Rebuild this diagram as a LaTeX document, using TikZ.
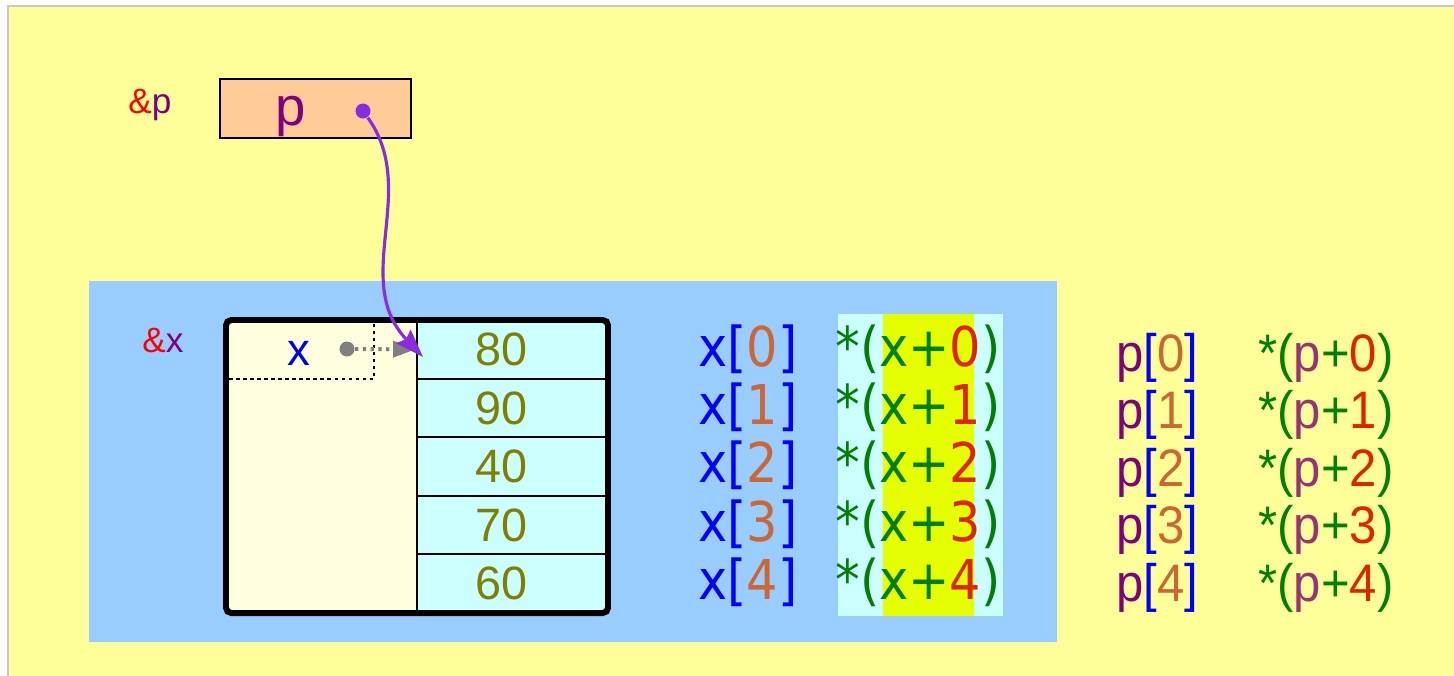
\documentclass[tikz,border=0pt]{standalone}
\usepackage{fontspec}
\setmainfont{Liberation Sans}
\newfontfamily\rightfont{Liberation Sans}[FakeStretch=0.93]
\newfontfamily\midfont{DejaVu Sans}[FakeStretch=0.9]
\usetikzlibrary{arrows.meta}
\definecolor{bgyellow}{HTML}{FFFF99}
\definecolor{bgborder}{HTML}{C8C8C8}
\definecolor{panelblue}{HTML}{99CCFF}
\definecolor{peach}{HTML}{FFCC99}
\definecolor{cellyellow}{HTML}{FFFFDD}
\definecolor{cellcyan}{HTML}{CCFFFF}
\definecolor{hilite}{HTML}{E6FF00}
\definecolor{pointer}{HTML}{8A2BE2}
\definecolor{valolive}{HTML}{808000}
\definecolor{varblue}{HTML}{0000FF}
\definecolor{varpurple}{HTML}{800080}
\definecolor{idxorange}{HTML}{CC6633}
\definecolor{offred}{HTML}{E02400}
\definecolor{ptrgreen}{HTML}{008000}
\definecolor{pmauve}{HTML}{993377}
\tikzset{
  cell/.style={draw, line width=0.6pt, fill=cellcyan, minimum width=1.91cm,
    minimum height=0.586cm, inner sep=0pt, text=valolive,
    font=\fontsize{13.3}{14}\selectfont},
  addr/.style={anchor=base, font=\fontsize{10}{12}\selectfont},
  midcol/.style={anchor=base, font=\fontsize{15.6}{18}\midfont},
  rightcol/.style={anchor=base, font=\fontsize{15}{18}\rightfont},
  dot/.style={circle, inner sep=0pt, minimum size=0.15cm}
}

\begin{document}
\begin{tikzpicture}[x=0.01cm,y=-0.01cm]
\useasboundingbox (0,0) rectangle (1454,675);
\fill[white] (0,0) rectangle (1454,675);
\draw[bgborder, line width=0.6pt, fill=bgyellow] (8,6) rectangle (1470,690);
\fill[panelblue] (89,281) rectangle (1057,642);
% highlight behind the pointer column
\fill[cellcyan] (838,314) rectangle (1003,616);
\fill[hilite] (883,314) rectangle (974,616);

% pointer variable p
\node[addr] (paddr) at (150,113) {\textcolor{red}{\&}\textcolor{varpurple}{p}};
\node[draw, line width=0.6pt, fill=peach, minimum width=1.91cm, minimum height=0.59cm] (pbox) at (315.5,108.5) {};
\node[anchor=base, text=varpurple, font=\fontsize{15.5}{18}\selectfont] (pname) at (291,125) {p};
\node[dot, fill=pointer] (pdot) at (363,111) {};

% array x
\node[addr] (xaddr) at (163,352) {\textcolor{red}{\&}\textcolor{varpurple}{x}};
\fill[cellyellow] (226,320) rectangle (417,613);
\draw[line width=0.6pt, dash pattern=on 1pt off 1pt] (229,379) -| (374,323);
\node[anchor=base, text=varblue, font=\fontsize{13}{15}\selectfont] (xname) at (299,365) {x};
\foreach \v [count=\i from 0] in {80,90,40,70,60}
  \node[cell] (v\i) at (512.5,{349.3+58.6*\i}) {\v\hspace*{0.22cm}};
\draw[line width=1.7pt, rounded corners=1.5pt] (226,320) rectangle (608,613);
\node[dot, fill=gray] (xdot) at (347,349) {};

% index and pointer forms
\foreach \k in {0,...,4} {
  \node[midcol] (xidx\k) at (748,{366+58.4*\k})
    {\textcolor{varblue}{x[}\textcolor{idxorange}{\k}\textcolor{varblue}{]}};
  \node[midcol] (xptr\k) at (918,{366+58.4*\k})
    {\textcolor{ptrgreen}{*(x+}\textcolor{offred}{\k}\textcolor{ptrgreen}{)}};
  \node[rightcol] (pidx\k) at (1157,{371+57.5*\k})
    {\textcolor{varpurple}{p}\textcolor{varblue}{[}\textcolor{idxorange}{\k}\textcolor{varblue}{]}};
  \node[rightcol] (pptr\k) at (1326,{371+57.5*\k})
    {\textcolor{ptrgreen}{*(}\textcolor{pmauve}{p}\textcolor{ptrgreen}{+}\textcolor{offred}{\k}\textcolor{ptrgreen}{)}};
}

% draw the arrows
\coordinate (ptip) at (423,357);
\draw[gray, line width=1.1pt, dash pattern=on 0.9pt off 1.3pt,
  -{Triangle[length=6.5pt,width=4.5pt]}] (xdot) -- (v0.west);
\draw[pointer, line width=0.9pt, -{Stealth[length=8pt,width=5.5pt,inset=1pt]}]
  (pdot) .. controls (420,190) and (350,280) .. (ptip);
\end{tikzpicture}
\end{document}
